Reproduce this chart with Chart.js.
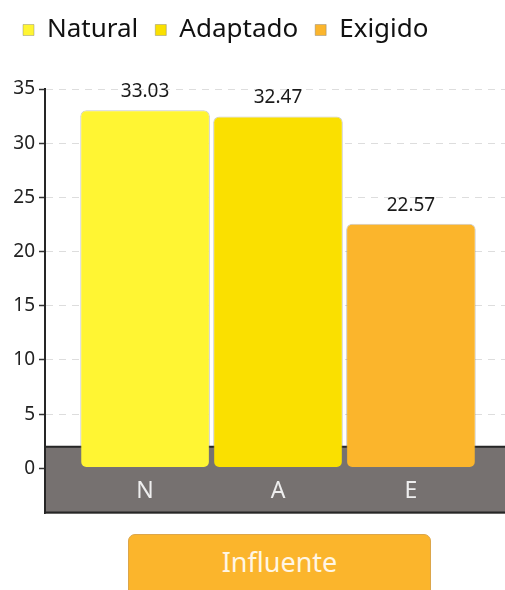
<!DOCTYPE html>
<html><head><meta charset="utf-8">
<script src="https://cdn.jsdelivr.net/npm/chart.js@4.4.0/dist/chart.umd.min.js"></script>
<style>
html,body{margin:0;padding:0;background:#fff;width:505px;height:590px;overflow:hidden;}
#wrap{position:absolute;left:0;top:0;width:505px;height:529px;}
#btn{position:absolute;left:128px;top:534px;width:303px;height:70px;background:#FBB52C;border:1px solid #dca64a;border-radius:7px;color:#fff6e4;font:27px 'Noto Sans';text-align:center;line-height:54px;box-sizing:border-box;}
</style></head>
<body>
<div id="wrap"><canvas id="c"></canvas></div>
<div id="btn">Influente</div>
<script>
const categories = ['N', 'A', 'E'];
const seriesNames = ['Natural', 'Adaptado', 'Exigido'];
const values = [33.03, 32.47, 22.57];
const colors = ['#FFF533', '#FAE000', '#FBB52C'];
const yTicks = [0, 5, 10, 15, 20, 25, 30, 35];
const bandTop = 2;
const yMin = -4.17;
const yMax = 35;
const FONT = "'Noto Sans'";

const datasets = seriesNames.map((name, i) => ({
  label: name,
  data: [values[i]],
  backgroundColor: colors[i],
  borderColor: 'rgba(120,120,120,0.4)',
  borderWidth: 1,
  borderRadius: 6,
  borderSkipped: false,
  categoryPercentage: 0.867,
  barPercentage: 0.975
}));

const bandPlugin = {
  id: 'band',
  afterInit(chart) {
    const lg = chart.legend;
    const fit = lg.fit;
    lg.fit = function () { fit.call(this); this.height = 89; };
  },
  afterLayout(chart) {
    const x = chart.scales.x;
    x.left += 3; x.right += 3;
    x.configure();
  },
  beforeDatasetsDraw(chart) {
    const {ctx, chartArea: a, scales: {y}} = chart;
    const top = y.getPixelForValue(bandTop);
    ctx.save();
    ctx.fillStyle = '#767170';
    ctx.fillRect(a.left, top, a.right - a.left, a.bottom - top);
    ctx.strokeStyle = '#262626';
    ctx.lineWidth = 2;
    ctx.beginPath();
    ctx.moveTo(a.left, top); ctx.lineTo(a.right, top);
    ctx.moveTo(a.left, a.bottom - 1); ctx.lineTo(a.right, a.bottom - 1);
    ctx.moveTo(a.left, a.top); ctx.lineTo(a.left, a.bottom);
    ctx.stroke();
    ctx.restore();
  },
  afterDatasetsDraw(chart) {
    const {ctx, chartArea: a, scales: {y}} = chart;
    const labY = (y.getPixelForValue(0) + a.bottom) / 2;
    ctx.save();
    ctx.textAlign = 'center';
    chart.data.datasets.forEach((ds, i) => {
      const bar = chart.getDatasetMeta(i).data[0];
      ctx.fillStyle = '#1a1a1a';
      ctx.font = '19px ' + FONT;
      ctx.textBaseline = 'alphabetic';
      ctx.fillText(ds.data[0].toFixed(2), bar.x, bar.y - 13);
      ctx.fillStyle = '#eeeeee';
      ctx.font = '23px ' + FONT;
      ctx.textBaseline = 'middle';
      ctx.fillText(categories[i], bar.x, labY);
    });
    ctx.restore();
  }
};

new Chart(document.getElementById('c'), {
  type: 'bar',
  data: { labels: [''], datasets },
  plugins: [bandPlugin],
  options: {
    responsive: true,
    maintainAspectRatio: false,
    animation: false,
    layout: { padding: { left: 6, right: 0, top: 0, bottom: 7 } },
    plugins: {
      tooltip: { enabled: false },
      legend: {
        position: 'top',
        align: 'start',
        labels: {
          boxWidth: 11, boxHeight: 11, padding: 17,
          color: '#111111',
          font: { family: FONT, size: 26 }
        }
      }
    },
    scales: {
      x: { display: false },
      y: {
        min: yMin, max: yMax,
        afterFit(s) { s.width = 39; },
        afterBuildTicks(s) { s.ticks = yTicks.map(v => ({ value: v })); },
        ticks: { color: '#222', padding: 4, font: { family: FONT, size: 19 } },
        grid: { color: '#dddddd', lineWidth: 1, tickColor: '#333', tickLength: 6, tickWidth: 1.5 },
        border: { color: '#222', width: 2, dash: [7, 6] }
      }
    }
  }
});
</script>
</body></html>
